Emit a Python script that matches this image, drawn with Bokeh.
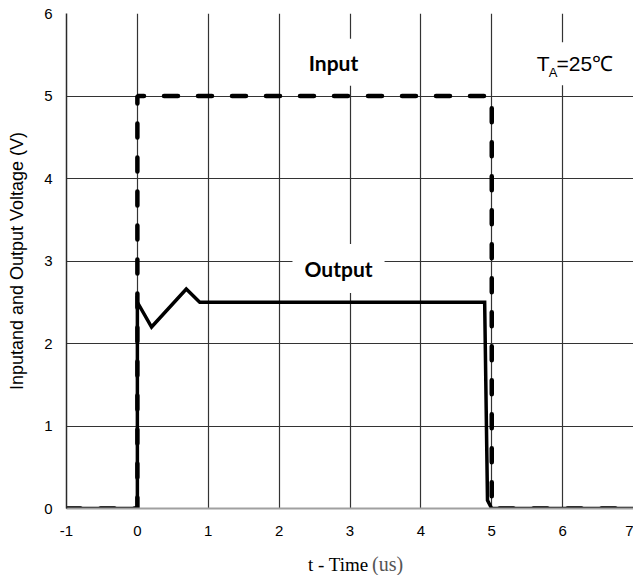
from bokeh.plotting import figure
from bokeh.layouts import column
from bokeh.models import Label, FixedTicker, Range1d
from bokeh.embed import file_html
from bokeh.resources import INLINE

# ---- data ----
x_ticks = [-1, 0, 1, 2, 3, 4, 5, 6, 7]
x_tick_labels = ["-1", "0", "1", "2", "3", "4", "5", "6", "7"]
y_ticks = [0, 1, 2, 3, 4, 5, 6]
input_t = [-1, 0, 0, 5, 5, 7]
input_v = [0, 0, 5, 5, 0, 0]
output_t = [-1, 0, 0, 0.2, 0.69, 0.88, 4.9, 4.94, 5.0, 7]
output_v = [0, 0, 2.5, 2.2, 2.66, 2.5, 2.5, 0.1, 0, 0]
x_label_parts = ["t - Time", "(us)"]

SANS = "Liberation Sans"

xr = Range1d(-1, 7)
p = figure(width=633, height=544, x_range=xr, y_range=Range1d(0, 6),
           output_backend="svg", toolbar_location=None,
           min_border_left=66, min_border_right=0, min_border_top=13, min_border_bottom=36)
p.outline_line_color = None
p.background_fill_color = "white"
p.border_fill_color = "white"

p.xaxis.ticker = FixedTicker(ticks=x_ticks)
p.xaxis.major_label_overrides = {t: s for t, s in zip(x_ticks, x_tick_labels)}
p.yaxis.ticker = FixedTicker(ticks=y_ticks)
p.xgrid.ticker = FixedTicker(ticks=x_ticks)
p.ygrid.ticker = FixedTicker(ticks=y_ticks[1:])
for g in (p.xgrid, p.ygrid):
    g.grid_line_color = "#333333"
    g.grid_line_width = 1.2
    g.grid_line_alpha = 1.0

for ax in (p.xaxis, p.yaxis):
    ax.major_tick_line_color = None
    ax.minor_tick_line_color = None
    ax.major_tick_out = 0
    ax.major_tick_in = 0
    ax.minor_tick_out = 0
    ax.minor_tick_in = 0
    ax.major_label_text_font = SANS
    ax.major_label_text_font_size = "15px"
    ax.major_label_text_color = "black"
p.xaxis.axis_line_color = "#a0a0a0"
p.xaxis.axis_line_width = 2
p.yaxis.axis_line_color = "#2a2a2a"
p.yaxis.axis_line_width = 1.5
p.xaxis.major_label_standoff = 17
p.yaxis.major_label_standoff = 14

p.yaxis.axis_label = "Inputand and Output Voltage (V)"
p.yaxis.axis_label_text_font = SANS
p.yaxis.axis_label_text_font_style = "normal"
p.yaxis.axis_label_text_font_size = "18px"
p.yaxis.axis_label_standoff = 14
p.yaxis.axis_label_text_color = "black"

# lines
p.line(input_t, input_v, line_color="black", line_width=4.5, line_dash="14 20", line_cap="round")
p.line(output_t, output_v, line_color="black", line_width=3.5, line_join="miter")

# annotations
p.add_layout(Label(x=2.767, y=5.41, text="Input", text_font="Lato", text_font_style="bold",
                   text_font_size="21px", text_align="center", text_baseline="middle",
                   text_color="black", background_fill_color="white", padding=11))
p.add_layout(Label(x=2.838, y=2.91, text="Output", text_font="Lato", text_font_style="bold",
                   text_font_size="21px", text_align="center", text_baseline="middle",
                   text_color="black", background_fill_color="white", padding=12))
p.add_layout(Label(x=5.773, y=5.39, text="=25℃", text_font=SANS, text_font_size="21px",
                   text_align="left", text_baseline="middle", text_color="black",
                   background_fill_color="white", padding=10))
p.add_layout(Label(x=5.815, y=5.39, text="T", text_font=SANS, text_font_size="21px",
                   text_align="right", text_baseline="middle", text_color="black"))
p.add_layout(Label(x=5.805, y=5.28, text="A", text_font=SANS, text_font_size="13px",
                   text_align="left", text_baseline="middle", text_color="black"))

# caption strip with the x-axis title (two fonts)
c = figure(width=633, height=31, x_range=xr, y_range=Range1d(0, 1),
           output_backend="svg", toolbar_location=None, x_axis_type=None, y_axis_type=None,
           min_border_left=66, min_border_right=0, min_border_top=0, min_border_bottom=0)
c.outline_line_color = None
c.xgrid.visible = False
c.ygrid.visible = False
c.text(x=[3.261], y=[0.36], text=[x_label_parts[0]], text_font="Liberation Sans",
       text_font_size="19px", text_align="right", text_baseline="middle", text_color="black")
c.text(x=[3.31], y=[0.36], text=[x_label_parts[1]], text_font="Liberation Serif",
       text_font_size="20px", text_align="left", text_baseline="middle", text_color="#555555")

layout = column(p, c, spacing=0)
open("out.html", "w").write(file_html(layout, INLINE))
